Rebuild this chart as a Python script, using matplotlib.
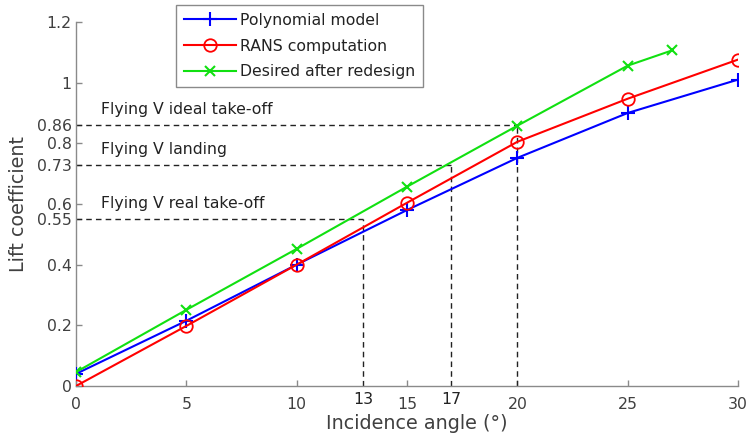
import matplotlib
matplotlib.use("Agg")
import matplotlib.pyplot as plt

plt.rcParams["font.family"] = ["DejaVu Sans"]

# -------------------------------------------------------------------
# Data
# -------------------------------------------------------------------
angles = [0, 5, 10, 15, 20, 25, 30]
poly_cl = [0.04, 0.215, 0.40, 0.58, 0.752, 0.90, 1.01]
rans_cl = [0.0, 0.198, 0.40, 0.604, 0.805, 0.947, 1.076]
desired_angles = [0, 5, 10, 15, 20, 25, 27]
desired_cl = [0.046, 0.251, 0.452, 0.657, 0.858, 1.056, 1.106]

# reference conditions: (label, required CL, incidence angle)
ref_names = ["Flying V ideal take-off", "Flying V landing", "Flying V real take-off"]
ref_cl = [0.86, 0.73, 0.55]
ref_angle = [20, 17, 13]

xticks = [0, 5, 10, 15, 20, 25, 30]
yticks = [0, 0.2, 0.4, 0.55, 0.6, 0.73, 0.8, 0.86, 1, 1.2]
ytick_labels = ["0", "0.2", "0.4", "0.55", "0.6", "0.73", "0.8", "0.86", "1", "1.2"]

GREY = "#404040"
GREEN = "#11e011"
FS = 11.3

fig = plt.figure(figsize=(7.5, 4.37), dpi=100)
ax = fig.add_axes([0.1013, 0.1167, 0.8827, 0.833])

ax.plot(angles, poly_cl, color="blue", lw=1.5, marker="+", ms=9.5, mew=1.5,
        label="Polynomial model", zorder=3)
ax.plot(angles, rans_cl, color="red", lw=1.5, marker="o", ms=9, mew=1.3,
        mfc="none", label="RANS computation", zorder=3)
ax.plot(desired_angles, desired_cl, color=GREEN, lw=1.5, marker="x", ms=7, mew=1.5,
        label="Desired after redesign", zorder=3)

# dashed guide lines
for name, cl, a in zip(ref_names, ref_cl, ref_angle):
    ax.plot([0, a], [cl, cl], ls=(0, (4, 3)), color="#222222", lw=1, zorder=2)
    ax.plot([a, a], [0, cl], ls=(0, (4, 3)), color="#222222", lw=1, zorder=2)
    ax.text(1.15, cl + 0.05, name, fontsize=FS, color="#222222", va="center", ha="left")

for a in (13, 17):
    ax.text(a, -0.045, str(a), fontsize=FS, color="#222222", ha="center", va="center")

ax.set_xlim(0, 30)
ax.set_ylim(0, 1.2)
ax.set_xticks(xticks)
ax.set_yticks(yticks)
ax.set_yticklabels(ytick_labels)

for side in ("top", "right"):
    ax.spines[side].set_visible(False)
for side in ("left", "bottom"):
    ax.spines[side].set_color("#8a8a8a")
    ax.spines[side].set_linewidth(1)

ax.tick_params(axis="both", direction="in", length=4, width=1, colors="#8a8a8a",
               labelcolor=GREY, labelsize=FS)
ax.tick_params(axis="x", pad=8)
ax.tick_params(axis="y", pad=3)

ax.set_xlabel("Incidence angle (°)", fontsize=13.8, color=GREY)
ax.set_ylabel("Lift coefficient", fontsize=13.8, color=GREY)
ax.xaxis.set_label_coords(0.515, -0.077)
ax.yaxis.set_label_coords(-0.0725, 0.5)

leg = ax.legend(loc="upper left", bbox_to_anchor=(176 / 750, 1 - 5 / 437),
                bbox_transform=fig.transFigure, fontsize=FS, handlelength=3.3,
                handletextpad=0.3, labelspacing=0.68, borderpad=0.5,
                borderaxespad=0, fancybox=False, framealpha=1)
leg.get_frame().set_edgecolor("#8a8a8a")
leg.get_frame().set_linewidth(1)
for t in leg.get_texts():
    t.set_color("#222222")

fig.savefig("out.png", dpi=100)
